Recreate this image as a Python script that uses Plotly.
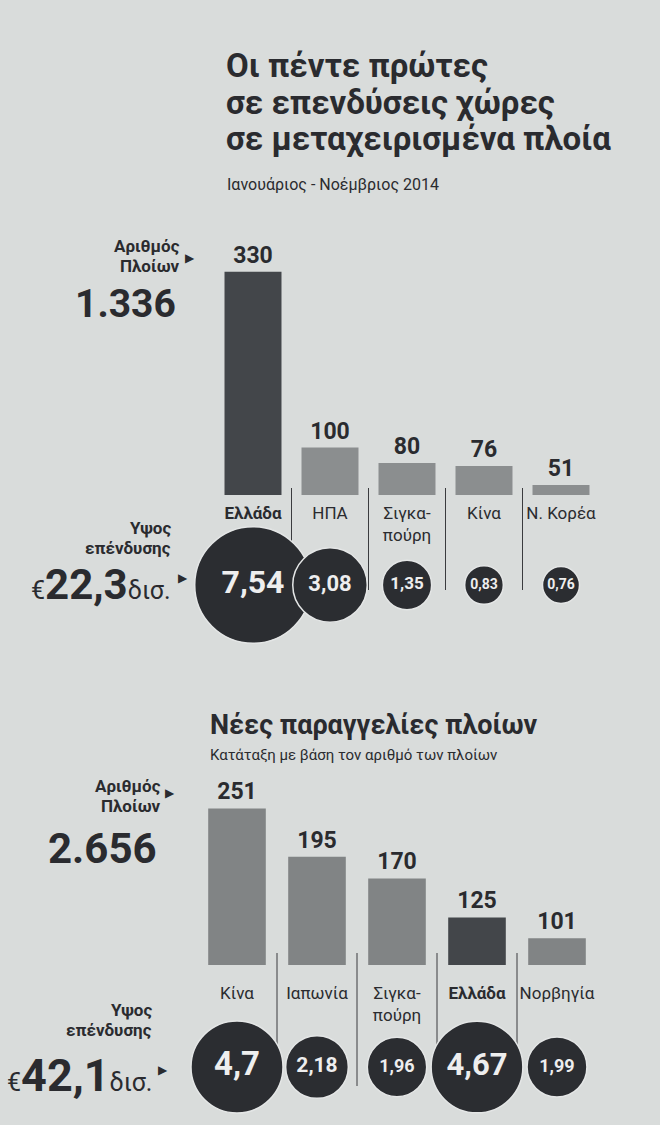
import plotly.graph_objects as go

# --- data -------------------------------------------------------------
used_countries = ["Ελλάδα", "ΗΠΑ", "Σιγκα-<br>πούρη", "Κίνα", "Ν. Κορέα"]
used_ships = [330, 100, 80, 76, 51]
used_invest = [7.54, 3.08, 1.35, 0.83, 0.76]
used_total_ships = 1336
used_total_invest = 22.3

new_countries = ["Κίνα", "Ιαπωνία", "Σιγκα-<br>πούρη", "Ελλάδα", "Νορβηγία"]
new_ships = [251, 195, 170, 125, 101]
new_invest = [4.7, 2.18, 1.96, 4.67, 1.99]
new_total_ships = 2656
new_total_invest = 42.1

# --- style ------------------------------------------------------------
FONT = "Roboto"
INK = "#2a2b2f"
BG = "#d9dcdb"
DARK_BAR = "#43464a"
GREY_BAR = "#8b8e8f"
BUBBLE = "#2b2d31"
SIZEREF = 0.00111  # shared bubble scale (area)

used_bar_colors = [DARK_BAR if c == "Ελλάδα" else GREY_BAR for c in used_countries]
new_bar_colors = [DARK_BAR if c == "Ελλάδα" else "#818485" for c in new_countries]
used_font_sizes = [32, 22, 17, 14, 14]
new_font_sizes = [33, 21, 18, 31, 18]


def comma(v):
    return f"{v:g}".replace(".", ",")


def thousands(v):
    return f"{v:,}".replace(",", ".")


def ticktext(names):
    return [f"<b>{n}</b>" if n == "Ελλάδα" else n for n in names]


def py(px):
    # pixel row (from top) -> paper fraction
    return (1125 - px) / 1125


idx = list(range(5))
fig = go.Figure()

fig.add_trace(go.Bar(
    x=idx, y=used_ships, width=0.74, marker=dict(color=used_bar_colors, line_width=0),
    text=used_ships, textposition="outside", cliponaxis=False, constraintext="none",
    textfont=dict(family=FONT, size=23, color=INK, weight="bold"),
    xaxis="x", yaxis="y", hoverinfo="skip",
))
fig.add_trace(go.Scatter(
    x=idx, y=[0] * 5, mode="markers+text", cliponaxis=False,
    marker=dict(size=used_invest, sizemode="area", sizeref=SIZEREF, color=BUBBLE,
                line=dict(color="#e4e6e6", width=1.5), opacity=1),
    text=[comma(v) for v in used_invest], textposition="middle center",
    textfont=dict(family=FONT, size=used_font_sizes, color="#eeeeee", weight="bold"),
    xaxis="x", yaxis="y3", hoverinfo="skip",
))

fig.add_trace(go.Bar(
    x=idx, y=new_ships, width=0.72, marker=dict(color=new_bar_colors, line_width=0),
    text=new_ships, textposition="outside", cliponaxis=False, constraintext="none",
    textfont=dict(family=FONT, size=23, color=INK, weight="bold"),
    xaxis="x2", yaxis="y2", hoverinfo="skip",
))
fig.add_trace(go.Scatter(
    x=idx, y=[0] * 5, mode="markers+text", cliponaxis=False,
    marker=dict(size=new_invest, sizemode="area", sizeref=SIZEREF, color=BUBBLE,
                line=dict(color="#e4e6e6", width=1.5), opacity=1),
    text=[comma(v) for v in new_invest], textposition="middle center",
    textfont=dict(family=FONT, size=new_font_sizes, color="#eeeeee", weight="bold"),
    xaxis="x2", yaxis="y4", hoverinfo="skip",
))

hidden = dict(showgrid=False, zeroline=False, showline=False, showticklabels=False, fixedrange=True)
tickax = dict(showgrid=False, zeroline=False, showline=False, ticks="", fixedrange=True,
              tickmode="array", tickvals=idx, range=[-0.5, 4.5],
              tickfont=dict(family=FONT, size=17, color=INK))

fig.update_layout(
    width=660, height=1125, margin=dict(l=0, r=0, t=0, b=0),
    paper_bgcolor=BG, plot_bgcolor="rgba(0,0,0,0)", showlegend=False,
    font=dict(family=FONT, color=INK),
    xaxis=dict(tickax, domain=[214.5 / 660, 599.5 / 660], anchor="y",
               ticktext=ticktext(used_countries), ticklabelstandoff=6),
    yaxis=dict(hidden, domain=[py(495), py(250)], range=[38, 358.6]),
    yaxis3=dict(hidden, domain=[py(645), py(525)], range=[-1, 1], anchor="x"),
    xaxis2=dict(tickax, domain=[197 / 660, 597 / 660], anchor="y2",
                ticktext=ticktext(new_countries), ticklabelstandoff=16),
    yaxis2=dict(hidden, domain=[py(965), py(780)], range=[70, 283.8]),
    yaxis4=dict(hidden, domain=[py(1107), py(1027)], range=[-1, 1], anchor="x2"),
)

# column separators
for k in range(4):
    fig.add_shape(type="line", xref="x", yref="paper", x0=k + 0.5, x1=k + 0.5,
                  y0=py(488), y1=py(590), line=dict(color="#3a3b3e", width=1), layer="below")
    fig.add_shape(type="line", xref="x2", yref="paper", x0=k + 0.5, x1=k + 0.5,
                  y0=py(953), y1=py(1086), line=dict(color="#3a3b3e", width=1), layer="below")


def note(text, x, y, size, xanchor="left", bold=False, yanchor="middle"):
    fig.add_annotation(
        text=f"<b>{text}</b>" if bold else text, x=x / 660, y=py(y), xref="paper", yref="paper",
        xanchor=xanchor, yanchor=yanchor, showarrow=False, align=xanchor if xanchor != "center" else "center",
        font=dict(family=FONT, size=size, color=INK),
    )


# titles
for i, line in enumerate(["Οι πέντε πρώτες", "σε επενδύσεις χώρες", "σε μεταχειρισμένα πλοία"]):
    note(line, 224, 66 + 36 * i, 33, bold=True)
note("Ιανουάριος - Νοέμβριος 2014", 225, 185, 16)
note("Νέες παραγγελίες πλοίων", 208, 725, 27, bold=True)
note("Κατάταξη με βάση τον αριθμό των πλοίων", 208, 755, 15)


def side_labels(top_y, ships_y, invest_y, money_y, right, tri_x, tri1_y, tri2_y, total_ships, total_invest, big):
    note("Αριθμός", right, top_y - 9, 17, xanchor="right", bold=True)
    note("Πλοίων", right, top_y + 11, 17, xanchor="right", bold=True)
    note("▶", tri_x, tri1_y, 12, xanchor="center")
    note(thousands(total_ships), right - 4, ships_y, big, xanchor="right", bold=True)
    note("Υψος", right - 9, invest_y - 9, 17, xanchor="right", bold=True)
    note("επένδυσης", right - 9, invest_y + 11, 17, xanchor="right", bold=True)
    money = (f"<span style='font-size:25px'>€</span><b>{comma(total_invest)}</b>"
             f"<span style='font-size:25px'>δισ.</span>")
    note(money, right - 9, money_y, big + 3, xanchor="right")
    note("▶", tri_x - 7, tri2_y, 12, xanchor="center")


side_labels(255, 304, 537, 584, 182, 190, 258, 578, used_total_ships, used_total_invest, 39)
side_labels(795, 848, 1019, 1075, 163, 170, 793, 1070, new_total_ships, new_total_invest, 42)

fig.write_html("out.html", config={"displayModeBar": False},
               post_script="document.body.style.margin='0';"
                           f"document.body.style.background='{BG}';")
